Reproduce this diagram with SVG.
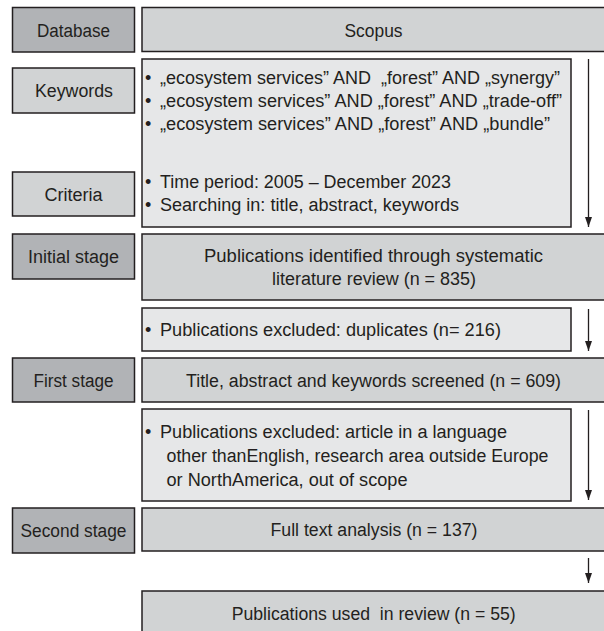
<svg xmlns="http://www.w3.org/2000/svg" width="604" height="631" viewBox="0 0 604 631">
  <style>
    .box { stroke: #231f20; stroke-width: 1.5; }
    .dark { fill: #b1b3b6; }
    .mid { fill: #d1d3d4; }
    .light { fill: #e6e7e8; }
    text { font-family: "Liberation Sans", Arial, sans-serif; font-size: 18px; fill: #231f20; }
    .c { text-anchor: middle; }
    .pre { white-space: pre; }
    .conn { stroke: #231f20; stroke-width: 1.3; fill: none; }
  </style>
  <defs>
    <marker id="ah" viewBox="0 0 10 7" refX="10" refY="3.5" markerWidth="10" markerHeight="7" markerUnits="userSpaceOnUse" orient="auto">
      <path d="M0,0 L10,3.5 L0,7 Z" fill="#231f20"/>
    </marker>
  </defs>

  <g id="database">
    <rect class="box dark" x="12.5" y="7.5" width="122" height="44.5"/>
    <text class="c" x="73.5" y="36.5" textLength="73" lengthAdjust="spacingAndGlyphs">Database</text>
  </g>
  <g id="scopus">
    <rect class="box mid" x="142" y="7.5" width="470" height="44"/>
    <text class="c" x="373.5" y="36.5" textLength="58" lengthAdjust="spacingAndGlyphs">Scopus</text>
  </g>
  <g id="keywords">
    <rect class="box mid" x="12.5" y="68" width="122" height="45"/>
    <text class="c" x="74" y="97" textLength="78" lengthAdjust="spacingAndGlyphs">Keywords</text>
  </g>
  <g id="search-terms">
    <rect class="box light" x="142" y="59" width="429" height="168"/>
    <text x="145" y="84">•</text>
    <text class="pre" x="160" y="84" textLength="400" lengthAdjust="spacingAndGlyphs">„ecosystem services” AND  „forest” AND „synergy”</text>
    <text x="145" y="107">•</text>
    <text x="160" y="107" textLength="402" lengthAdjust="spacingAndGlyphs">„ecosystem services” AND „forest” AND „trade-off”</text>
    <text x="145" y="130">•</text>
    <text x="160" y="130" textLength="390" lengthAdjust="spacingAndGlyphs">„ecosystem services” AND „forest” AND „bundle”</text>
    <text x="145" y="188">•</text>
    <text x="160" y="188" textLength="291" lengthAdjust="spacingAndGlyphs">Time period: 2005 – December 2023</text>
    <text x="145" y="211">•</text>
    <text x="160" y="211" textLength="299" lengthAdjust="spacingAndGlyphs">Searching in: title, abstract, keywords</text>
  </g>
  <g id="criteria">
    <rect class="box mid" x="12.5" y="172" width="122" height="44"/>
    <text class="c" x="73.5" y="200.5" textLength="58" lengthAdjust="spacingAndGlyphs">Criteria</text>
  </g>
  <g id="initial-stage">
    <rect class="box dark" x="12.5" y="234" width="122" height="45"/>
    <text class="c" x="73.5" y="262.5" textLength="91" lengthAdjust="spacingAndGlyphs">Initial stage</text>
  </g>
  <g id="identified">
    <rect class="box mid" x="142" y="234" width="470" height="66"/>
    <text class="c" x="373.5" y="261.5" textLength="339" lengthAdjust="spacingAndGlyphs">Publications identified through systematic</text>
    <text class="c" x="374" y="284.5" textLength="204" lengthAdjust="spacingAndGlyphs">literature review (n = 835)</text>
  </g>
  <g id="duplicates">
    <rect class="box light" x="142" y="308" width="429" height="43"/>
    <text x="145" y="336">•</text>
    <text x="160" y="336" textLength="341" lengthAdjust="spacingAndGlyphs">Publications excluded: duplicates (n= 216)</text>
  </g>
  <g id="first-stage">
    <rect class="box dark" x="12.5" y="358" width="122" height="44"/>
    <text class="c" x="73.5" y="386.5" textLength="80" lengthAdjust="spacingAndGlyphs">First stage</text>
  </g>
  <g id="screened">
    <rect class="box mid" x="142" y="358" width="470" height="44"/>
    <text class="c" x="373.5" y="386.5" textLength="375" lengthAdjust="spacingAndGlyphs">Title, abstract and keywords screened (n = 609)</text>
  </g>
  <g id="excluded">
    <rect class="box light" x="142" y="409" width="429" height="92"/>
    <text x="145" y="438">•</text>
    <text x="160" y="438" textLength="347" lengthAdjust="spacingAndGlyphs">Publications excluded: article in a language</text>
    <text x="166.5" y="462" textLength="382" lengthAdjust="spacingAndGlyphs">other thanEnglish, research area outside Europe</text>
    <text x="166.5" y="486" textLength="241" lengthAdjust="spacingAndGlyphs">or NorthAmerica, out of scope</text>
  </g>
  <g id="second-stage">
    <rect class="box dark" x="12.5" y="508" width="122" height="45"/>
    <text class="c" x="73.5" y="537" textLength="106" lengthAdjust="spacingAndGlyphs">Second stage</text>
  </g>
  <g id="full-text">
    <rect class="box mid" x="142" y="508" width="470" height="43"/>
    <text class="c" x="374" y="536" textLength="207" lengthAdjust="spacingAndGlyphs">Full text analysis (n = 137)</text>
  </g>
  <g id="used">
    <rect class="box mid" x="142" y="591" width="470" height="50"/>
    <text class="c pre" x="373.7" y="619.5" textLength="284" lengthAdjust="spacingAndGlyphs">Publications used  in review (n = 55)</text>
  </g>

  <g id="connectors">
    <line class="conn" x1="588.5" y1="59" x2="588.5" y2="227" marker-end="url(#ah)"/>
    <line class="conn" x1="588.5" y1="309" x2="588.5" y2="351" marker-end="url(#ah)"/>
    <line class="conn" x1="588.5" y1="410" x2="588.5" y2="500" marker-end="url(#ah)"/>
    <line class="conn" x1="588.5" y1="558" x2="588.5" y2="583" marker-end="url(#ah)"/>
  </g>
</svg>
